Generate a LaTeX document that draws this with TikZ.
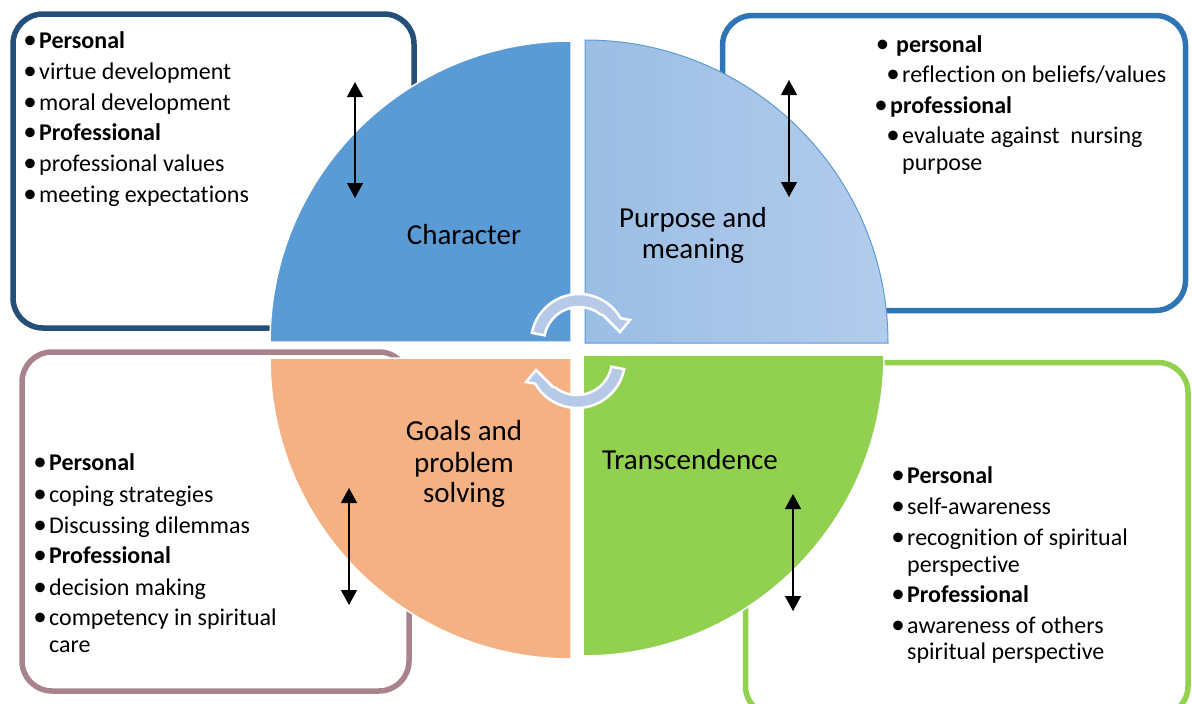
\documentclass[tikz,border=0pt]{standalone}
\usepackage{fontspec}
\setmainfont{Carlito}[Ligatures=NoCommon]
\usetikzlibrary{arrows.meta,calc}

\definecolor{charblue}{RGB}{91,155,213}
\definecolor{purpleft}{RGB}{155,190,228}
\definecolor{purpright}{RGB}{178,204,236}
\definecolor{goalorange}{RGB}{244,177,131}
\definecolor{transgreen}{RGB}{146,208,80}
\definecolor{navyframe}{RGB}{36,79,121}
\definecolor{blueframe}{RGB}{46,117,182}
\definecolor{mauveframe}{RGB}{168,131,139}
\definecolor{cyclefill}{RGB}{183,201,232}

\tikzset{
  frame/.style={line width=5.5pt, rounded corners=30pt},
  quad/.style={draw=white, line width=1.5pt},
  qlabel/.style={anchor=base, inner sep=0pt, font=\fontsize{29}{31}\selectfont},
  itm/.style={anchor=base west, inner sep=0pt, font=\fontsize{24}{29}\selectfont},
  twoway/.style={{Triangle[width=16pt,length=15pt]}-{Triangle[width=16pt,length=15pt]}, line width=1.3pt},
  cyclearrow/.style={fill=cyclefill, draw=white, line width=2.5pt, line join=miter},
}
% bullet hung to the left of the item text
\newcommand\bul[1]{\llap{\raisebox{-0.9pt}{\fontsize{27}{27}\selectfont\textbullet}\hspace{#1}}}

\begin{document}
\begin{tikzpicture}[x=1pt,y=-1pt]
\useasboundingbox (0,0) rectangle (1192,704);
\clip (0,0) rectangle (1192,704);

% rounded frames behind the circle
\draw[frame, draw=navyframe]   (13,14) rectangle (414,328);
\draw[frame, draw=blueframe]   (722.5,15.5) rectangle (1185.5,310.5);
\draw[frame, draw=mauveframe]  (22,352) rectangle (409,691);
\draw[frame, draw=transgreen]  (745.5,362.5) rectangle (1188,716);

% four quarter discs
\path[quad, fill=charblue] (571,342) -- (270,342) arc[start angle=180, end angle=270, radius=301] -- cycle;
\shade[left color=purpleft, right color=purpright] (585,343) -- (585,40) arc[start angle=270, end angle=360, radius=303] -- cycle;
\draw[charblue, line width=1pt] (585,343) -- (585,40) arc[start angle=270, end angle=360, radius=303] -- cycle;
\path[quad, fill=goalorange] (571,358) -- (571,659) arc[start angle=90, end angle=180, radius=301] -- cycle;
\path[quad, fill=transgreen] (583,355) -- (884,355) arc[start angle=0, end angle=90, radius=301] -- cycle;

% quadrant titles
\node[qlabel] (lblchar)   at (464,244) {Character};
\node[qlabel] (lblpurpA)  at (693,227) {Purpose and};
\node[qlabel] (lblpurpB)  at (693,258) {meaning};
\node[qlabel] (lblgoalA)  at (464,440) {Goals and};
\node[qlabel] (lblgoalB)  at (464,472) {problem};
\node[qlabel] (lblgoalC)  at (464,502) {solving};
\node[qlabel] (lbltrans)  at (690,469) {Transcendence};

% character frame
\node[itm] (chA) at (39,48)  {\bul{2.5pt}\textbf{Personal}};
\node[itm] (chB) at (39,79)  {\bul{2.5pt}virtue development};
\node[itm] (chC) at (39,110) {\bul{2.5pt}moral development};
\node[itm] (chD) at (39,140) {\bul{2.5pt}\textbf{Professional}};
\node[itm] (chE) at (39,171) {\bul{2.5pt}professional values};
\node[itm] (chF) at (39,202) {\bul{2.5pt}meeting expectations};

% purpose frame
\node[itm] (puA) at (896,52)  {\bul{7pt}\textbf{personal}};
\node[itm] (puB) at (902,82)  {\bul{2.5pt}reflection on beliefs/values};
\node[itm] (puC) at (890,113) {\bul{2.5pt}\textbf{professional}};
\node[itm] (puD) at (902,143) {\bul{2.5pt}evaluate against\ \ nursing};
\node[itm] (puE) at (902,170) {purpose};

% goals frame
\node[itm] (goA) at (49,470) {\bul{2.5pt}\textbf{Personal}};
\node[itm] (goB) at (49,502) {\bul{2.5pt}coping strategies};
\node[itm] (goC) at (49,533) {\bul{2.5pt}Discussing dilemmas};
\node[itm] (goD) at (49,563) {\bul{2.5pt}\textbf{Professional}};
\node[itm] (goE) at (49,595) {\bul{2.5pt}decision making};
\node[itm] (goF) at (49,625) {\bul{2.5pt}competency in spiritual};
\node[itm] (goG) at (49,652) {care};

% transcendence frame
\node[itm] (trA) at (907,483) {\bul{2.5pt}\textbf{Personal}};
\node[itm] (trB) at (907,514) {\bul{2.5pt}self-awareness};
\node[itm] (trC) at (907,545) {\bul{2.5pt}recognition of spiritual};
\node[itm] (trD) at (907,572) {perspective};
\node[itm] (trE) at (907,602) {\bul{2.5pt}\textbf{Professional}};
\node[itm] (trF) at (907,633) {\bul{2.5pt}awareness of others};
\node[itm] (trG) at (907,659) {spiritual perspective};

% two-way arrows between disc and frame
\coordinate (chTop) at (355,82);  \coordinate (chBot) at (355,198);
\coordinate (puTop) at (789,80);  \coordinate (puBot) at (789,197);
\coordinate (goTop) at (349,488); \coordinate (goBot) at (349,605);
\coordinate (trTop) at (793,494); \coordinate (trBot) at (793,611);
\draw[twoway] (chTop) -- (chBot);
\draw[twoway] (puTop) -- (puBot);
\draw[twoway] (goTop) -- (goBot);
\draw[twoway] (trTop) -- (trBot);

% circular arrows in the middle: upper one turns clockwise to the right,
% lower one turns back to the left
\coordinate (cycU) at (579,342);
\path[cyclearrow] ($(cycU)+(191:48)$) arc[start angle=191, end angle=330.4, radius=48]
  -- (630,320) -- (620,332) -- (603,315)
  -- ($(cycU)+(308.5:35)$) arc[start angle=308.5, end angle=191, radius=35] -- cycle;
\coordinate (cycL) at (577,360);
\path[cyclearrow] ($(cycL)+(11:48)$) arc[start angle=11, end angle=150.4, radius=48]
  -- (526,382) -- (536,370) -- (553,387)
  -- ($(cycL)+(128.5:35)$) arc[start angle=128.5, end angle=11, radius=35] -- cycle;
\end{tikzpicture}
\end{document}
